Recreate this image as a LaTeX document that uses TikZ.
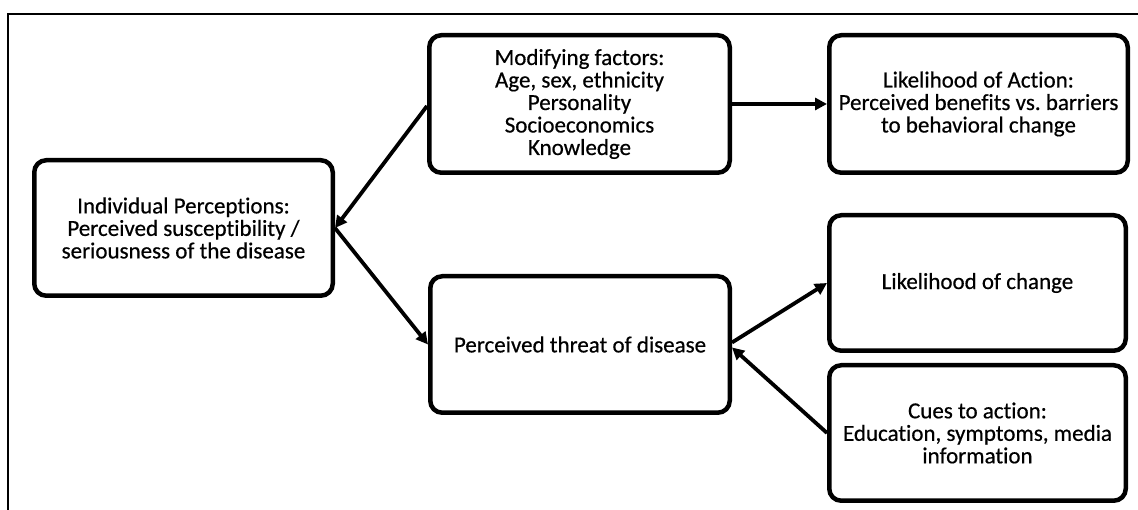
\documentclass[tikz,border=0pt]{standalone}
\usepackage{fontspec}
\setmainfont{Carlito}[Ligatures={NoCommon},UprightFeatures={FakeBold=0.5}]
\usetikzlibrary{arrows.meta}
\begin{document}
\begin{tikzpicture}[x=1pt,y=1pt,
  box/.style={draw=black,line width=4.5pt,rounded corners=12pt,align=center,
    font=\fontsize{23}{22.5}\selectfont,inner sep=0pt},
  arr/.style={line width=3.8pt,-{Triangle[length=12pt,width=12pt]}},
  frame/.style={line width=2.2pt}]
\useasboundingbox (0,0) rectangle (1138,510);
\draw[frame] (8,0) -- (8,496) -- (1140,496);
\node[box,minimum width=298.5pt,minimum height=135.5pt] (A) at (183.5,282)
  {Individual Perceptions:\\Perceived susceptibility /\\seriousness of the disease};
\node[box,minimum width=300.5pt,minimum height=137.5pt] (B) at (579.5,406)
  {Modifying factors:\\Age, sex, ethnicity\\Personality\\Socioeconomics\\Knowledge};
\node[box,minimum width=298.5pt,minimum height=137.5pt] (C) at (978.5,406)
  {Likelihood of Action:\\Perceived benefits vs.\ barriers\\to behavioral change};
\node[box,minimum width=299.5pt,minimum height=136.5pt] (D) at (580,165.5)
  {Perceived threat of disease};
\node[box,minimum width=296.5pt,minimum height=135.5pt] (E) at (977.5,227)
  {Likelihood of change};
\node[box,minimum width=296.5pt,minimum height=135.5pt] (F) at (977.5,77)
  {Cues to action:\\Education, symptoms, media\\information};
\draw[arr] ([yshift=-2pt]B.west) -- (A.east);
\draw[arr] (A.east) -- (D.west);
\draw[arr] (B.east) -- (C.west);
\draw[arr] ([yshift=2pt]D.east) -- (E.west);
\draw[arr] (F.west) -- ([yshift=-3pt]D.east);
\end{tikzpicture}
\end{document}
